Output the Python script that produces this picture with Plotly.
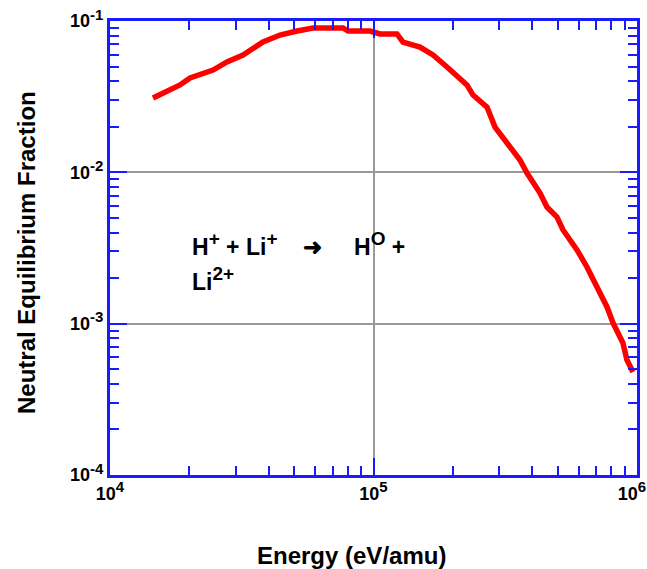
import plotly.graph_objects as go

energy = [14560, 18440, 20120, 24600, 27800, 31970, 38070, 44180, 51260, 58930,
          76630, 80040, 97000, 105900, 122800, 129400, 150100, 168200, 190100,
          212900, 226300, 238600, 269600, 289100, 310000, 359700, 382400, 428500,
          455300, 497000, 524000, 592000, 645700, 705000, 769400, 811000, 884500,
          916000, 965700]
fraction = [0.0310, 0.0378, 0.0420, 0.0474, 0.0536, 0.0596, 0.0726, 0.0808, 0.0859,
            0.0899, 0.0899, 0.0859, 0.0859, 0.0821, 0.0821, 0.0726, 0.0673, 0.0596,
            0.0497, 0.0420, 0.0378, 0.0324, 0.0270, 0.0199, 0.0171, 0.01206, 0.00990,
            0.00730, 0.00590, 0.00507, 0.00416, 0.00307, 0.00237, 0.00175, 0.00129,
            0.00101, 0.000745, 0.000575, 0.000479]

x_ticks = [1e4, 1e5, 1e6]
x_exps = ["4", "5", "6"]
y_ticks = [1e-4, 1e-3, 1e-2, 1e-1]
y_exps = ["-4", "-3", "-2", "-1"]


def pow_label(e):
    return "10<sup><span style='font-size:15px'>%s</span></sup>" % e


x_labels = [pow_label(e) for e in x_exps]
x_labels[-1] = x_labels[-1] + "\u00a0\u00a0"
y_labels = [pow_label(e) for e in y_exps]

FONT = "Liberation Sans, Arial, sans-serif"
BLUE = "#1a1aff"

fig = go.Figure()
fig.add_trace(go.Scatter(x=energy, y=fraction, mode="lines",
                         line=dict(color="#ff0000", width=5.5), showlegend=False))

axis_common = dict(
    type="log", showline=True, linecolor=BLUE, linewidth=3, mirror="allticks",
    ticks="inside", ticklen=17, tickwidth=2, tickcolor=BLUE, automargin=False,
    ticklabeloverflow="allow",
    showgrid=True, gridcolor="#999999", gridwidth=1.5, zeroline=False,
    tickfont=dict(family=FONT, size=18, color="black", weight="bold"),
    minor=dict(ticks="inside", ticklen=9, tickwidth=2, tickcolor=BLUE, showgrid=False,
               dtick="D1"),
)

fig.update_xaxes(range=[4, 6], tickmode="array", tickvals=x_ticks, ticktext=x_labels,
                 **axis_common)
fig.update_yaxes(range=[-4, -1], tickmode="array", tickvals=y_ticks, ticktext=y_labels,
                 **axis_common)

fig.add_annotation(text="<b>Neutral Equilibrium Fraction</b>", xref="paper", yref="paper",
                   x=0, y=0.5, xshift=-84, yshift=-5, xanchor="center", yanchor="middle",
                   textangle=-90, showarrow=False,
                   font=dict(family=FONT, size=24, color="black"))
fig.add_annotation(text="<b>Energy (eV/amu)</b>", xref="paper", yref="paper",
                   x=0.5, y=0, xshift=-22, yshift=-80, xanchor="center", yanchor="middle",
                   showarrow=False,
                   font=dict(family=FONT, size=24, color="black"))

SUP = "<sup><span style='font-size:19px'>%s</span></sup>"
fig.add_annotation(text="<b>H" + SUP % "+" + " + Li" + SUP % "+" +
                        "\u00a0\u00a0\u00a0 \u279c\u00a0\u00a0\u00a0\u00a0 H" + SUP % "O" + " +</b>",
                   xref="paper", yref="paper", x=0.152, y=0.508, xanchor="left",
                   yanchor="middle", showarrow=False,
                   font=dict(family=FONT, size=23, color="black"))
fig.add_annotation(text="<b>Li" + SUP % "2+" + "</b>",
                   xref="paper", yref="paper", x=0.152, y=0.432, xanchor="left",
                   yanchor="middle", showarrow=False,
                   font=dict(family=FONT, size=23, color="black"))

fig.update_layout(width=647, height=569, margin=dict(l=110, r=10, t=21, b=94),
                  plot_bgcolor="white", paper_bgcolor="white")

fig.write_html("out.html", config={"displayModeBar": False},
               post_script="document.body.style.margin='0';")
